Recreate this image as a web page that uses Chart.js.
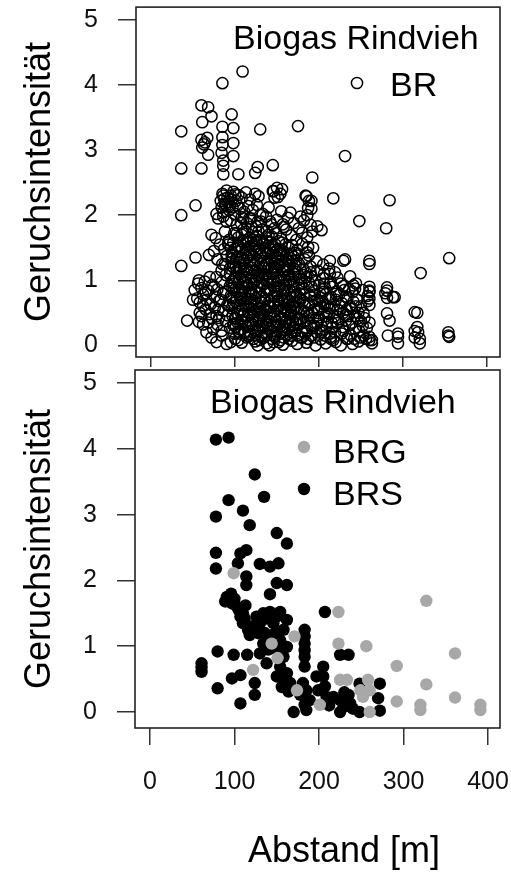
<!DOCTYPE html>
<html>
<head>
<meta charset="utf-8">
<script src="https://cdn.jsdelivr.net/npm/chart.js@4.4.1/dist/chart.umd.min.js"></script>
<style>
  body { margin: 0; background: #fff; }
  #wrap { position: relative; width: 511px; height: 872px; }
  canvas { position: absolute; left: 0; }
  #topChart { top: 0; }
  #bottomChart { top: 360px; }
</style>
</head>
<body>
<div id="wrap">
  <canvas id="topChart" width="511" height="370"></canvas>
  <canvas id="bottomChart" width="511" height="512"></canvas>
</div>
<script>
// ticks
const xTicks = [0, 100, 200, 300, 400];
const yTicks = [0, 1, 2, 3, 4, 5];

// top panel: Biogas Rindvieh, BR  [Abstand m, Geruchsintensitaet]
const brPoints = [
  [109,4.21],[85,4.03],[60,3.69],[68,3.66],[72,3.52],[61,3.43],[36,3.29],[96,3.55],[98,3.34],[85,3.36],[130,3.32],[175,3.37],
  [60,3.16],[63,3.09],[67,3.19],[61,3.04],[64,3.12],[68,2.93],[85,3.2],[85,3.08],[84,2.96],[86,2.84],[98,3.11],[98,2.91],
  [36,2.72],[60,2.72],[86,2.76],[86,2.63],[104,2.63],[124,2.65],[127,2.74],[145,2.77],[231,2.91],[192,2.58],
  [36,2.0],[53,2.15],[78,2.02],[217,2.26],[284,2.23],[248,1.91],[280,1.8],[150,2.42],[156,2.4],[185,2.29],[191,2.22],[187,2.11],
  [145,2.37],[154,2.33],[147,2.27],[166,2.04],[203,1.77],[355,1.34],[231,1.32],[260,1.3],[260,1.25],[321,1.11],
  [36,1.22],[53,1.35],[69,1.39],[229,1.3],[219,1.12],[213,0.95],[187,1.51],
  [241,0.92],[243,0.87],[260,0.82],[260,0.72],[260,0.62],[279,0.8],[281,0.73],[288,0.74],[317,0.5],[281,0.49],[284,0.38],[260,0.35],
  [294,0.18],[294,0.13],[294,0.03],[317,0.28],[318,0.2],[320,0.1],[320,0.03],[354,0.2],[354,0.15],[282,0.15],[263,0.08],[263,0.03],[57,0.36],
  [85,2.33],[87,2.25],[90,2.38],[92,2.2],[95,2.3],[98,2.36],[101,2.22],[104,2.31],[108,2.27],[113,2.35],[118,2.24],[124,2.33],[128,2.29],[146,2.37],[151,2.28],[184,2.3],[188,2.22],
  [84,2.12],[86,2.05],[89,2.15],[93,2.08],[97,2.12],[100,2.02],[106,2.1],[111,2.05],[116,2.14],[121,2.08],[126,2.16],[133,2.02],[140,2.12],[155,2.06],[178,1.98],[191,2.1],[186,2.0],
  [80,1.95],[95,1.92],[102,1.85],[108,1.97],[114,1.88],[119,1.95],[125,1.83],[131,1.9],[137,1.98],[143,1.86],[150,1.93],[158,1.82],[163,1.96],[170,1.88],[176,1.8],[182,1.92],[190,1.85],[198,1.83],
  [72,1.7],[77,1.65],[88,1.75],[93,1.62],[99,1.72],[104,1.66],[110,1.78],[115,1.63],[121,1.74],[126,1.68],[132,1.61],[138,1.76],[144,1.67],[149,1.72],[155,1.64],[161,1.78],[167,1.69],[173,1.62],[180,1.73],[186,1.66],[192,1.75],
  [75,1.45],[82,1.55],[87,1.48],[92,1.58],[97,1.42],[103,1.53],[108,1.47],[113,1.59],[118,1.44],[123,1.55],[128,1.49],[134,1.57],[139,1.43],[145,1.52],[150,1.46],[156,1.58],[162,1.41],[168,1.54],[174,1.47],[180,1.56],[186,1.43],[193,1.5],
  [79,1.32],[85,1.25],[90,1.37],[96,1.28],[101,1.21],[106,1.34],[111,1.26],[116,1.39],[121,1.23],[126,1.31],[131,1.37],[136,1.24],[142,1.33],[147,1.27],[153,1.38],[158,1.22],[164,1.3],[170,1.36],[176,1.25],[183,1.32],[190,1.21],[197,1.29],[205,1.24],[213,1.3],[212,1.18],
  [78,1.05],[84,1.15],[89,1.08],[94,1.18],[99,1.02],[104,1.12],[109,1.06],[114,1.17],[119,1.03],[124,1.13],[129,1.07],[134,1.19],[139,1.01],[144,1.1],[149,1.16],[154,1.04],[159,1.14],[165,1.08],[171,1.17],[177,1.02],[184,1.12],[191,1.06],[198,1.15],[205,1.03],[213,1.1],[222,1.04],[237,1.06],
  [56,0.95],[60,0.88],[64,0.98],[68,0.84],[73,0.93],[79,0.86],[84,0.97],[89,0.82],[94,0.91],[99,0.85],[104,0.96],[109,0.83],[114,0.92],[119,0.87],[124,0.99],[129,0.81],[134,0.94],[139,0.88],[144,0.97],[149,0.83],
  [154,0.91],[159,0.86],[164,0.98],[170,0.82],[176,0.93],[182,0.87],[188,0.96],[194,0.84],[200,0.92],[207,0.88],[214,0.97],[221,0.83],[229,0.91],[236,0.86],[244,0.95],[260,0.9],[260,0.84],[281,0.89],[281,0.84],
  [55,0.72],[58,0.66],[62,0.78],[66,0.7],[71,0.63],[76,0.75],[81,0.68],[86,0.79],[91,0.62],[96,0.73],[101,0.67],[106,0.77],[111,0.64],[116,0.71],[121,0.79],[126,0.65],[131,0.74],[136,0.69],[141,0.61],[146,0.76],
  [151,0.68],[156,0.72],[161,0.63],[166,0.78],[171,0.66],[177,0.73],[183,0.61],[189,0.77],[195,0.68],[201,0.74],[207,0.62],[213,0.71],[220,0.79],[227,0.65],[234,0.73],[241,0.67],[250,0.6],[258,0.76],[258,0.68],[290,0.74],
  [60,0.45],[65,0.55],[70,0.48],[76,0.58],[81,0.42],[86,0.53],[91,0.46],[96,0.57],[101,0.41],[106,0.52],[111,0.47],[116,0.59],[121,0.43],[126,0.54],[131,0.49],[136,0.56],[141,0.44],[146,0.51],[151,0.58],[156,0.42],
  [161,0.53],[166,0.47],[171,0.57],[176,0.41],[182,0.52],[188,0.46],[194,0.55],[200,0.43],[206,0.5],[212,0.57],[218,0.44],[225,0.53],[232,0.47],[239,0.56],[246,0.41],[253,0.5],[314,0.51],
  [43,0.38],[68,0.35],[74,0.25],[79,0.32],[84,0.22],[89,0.37],[94,0.27],[99,0.33],[104,0.21],[109,0.36],[114,0.28],[119,0.34],[124,0.23],[129,0.39],[134,0.26],[139,0.31],[144,0.22],[149,0.37],[154,0.29],[159,0.24],
  [164,0.35],[169,0.27],[174,0.32],[180,0.21],[186,0.38],[192,0.26],[198,0.33],[204,0.23],[210,0.36],[216,0.28],[222,0.34],[229,0.22],[236,0.31],[243,0.25],[250,0.37],[257,0.27],[314,0.22],
  [72,0.12],[78,0.05],[84,0.15],[90,0.02],[100,0.1],[108,0.04],[116,0.14],[124,0.06],[127,0.0],[133,0.11],[138,0.03],[141,0.0],[147,0.13],[152,0.05],[157,0.01],[162,0.16],[168,0.07],[174,0.02],[180,0.12],[185,0.04],
  [191,0.15],[196,0.0],[202,0.09],[208,0.03],[214,0.13],[220,0.05],[226,0.0],[233,0.1],[240,0.02],[247,0.06],[253,0.15],[260,0.13],[260,0.08],[314,0.12],[355,0.13],
  [92,1.55],[97,1.33],[103,1.44],[107,1.18],[112,0.97],[117,1.52],[122,1.36],[127,1.12],[132,0.95],[137,1.41],[142,1.58],[147,1.2],[152,0.99],[157,1.45],[163,1.16],[168,1.02],[173,1.3],
  [95,0.76],[100,0.58],[105,0.88],[110,0.69],[115,0.45],[120,0.62],[125,0.81],[130,0.56],[135,0.72],[140,0.38],[145,0.64],[150,0.79],[155,0.52],[160,0.35],[165,0.68],[170,0.44],[175,0.58],
  [98,0.31],[103,0.48],[108,0.25],[113,0.6],[118,0.17],[123,0.52],[128,0.3],[133,0.45],[138,0.15],[143,0.58],[148,0.28],[153,0.4],[158,0.12],[163,0.5],[168,0.2],
  [178,0.4],[183,0.27],[188,0.63],[193,0.42],[198,0.55],[203,0.3],[208,0.45],[213,0.18],[218,0.62],[223,0.4],[228,0.28],[233,0.55],[238,0.15],[243,0.45],[248,0.22],
  [196,1.0],[201,0.8],[206,1.1],[211,0.72],[216,0.9],[226,0.95],[232,0.75],[240,0.82],
  [94,1.1],[99,0.95],[104,1.28],[109,1.6],[114,1.05],[119,0.8],[124,1.45],[129,1.62],[134,1.1],[139,0.85],[144,1.3],[149,1.05],[154,1.25],[159,0.7],[164,1.5],[169,0.9],[174,1.12],[179,0.95],[185,1.05],[190,0.75],
  [80,0.55],[75,0.9],[70,1.05],[65,0.8],[62,0.6],[58,0.5],[52,0.85],[50,0.7],[57,1.0],[62,0.32],[66,0.2],[72,0.42],
  [86,2.3],[88,2.18],[91,2.27],[94,2.14],[96,2.24],[100,2.32],[103,2.15],[86,1.98],[83,2.22],
  [96,1.38],[101,1.05],[106,0.62],[111,1.3],[116,0.92],[121,0.55],[126,1.02],[131,1.25],[136,0.82],[141,1.48],[146,0.9],[151,1.35],[156,0.77],[161,1.2],[166,0.58],[171,1.42],[176,0.66],[181,1.18],
  [97,0.45],[102,0.72],[107,0.38],[112,0.82],[117,0.3],[122,0.95],[127,0.42],[132,0.66],[137,0.35],[142,0.86],[147,0.46],[152,0.7],[157,0.28],[162,0.84],[167,0.52],[172,0.22],[177,0.8],[182,0.36],
  [99,0.18],[104,0.08],[109,0.45],[114,0.12],[119,0.5],[124,0.15],[129,0.08],[134,0.2],[139,0.52],[144,0.1],[149,0.18],[154,0.08],[159,0.47],[164,0.1],[169,0.38],[174,0.15],[179,0.55],[184,0.18],
  [187,0.1],[192,0.5],[197,0.2],[202,0.6],[207,0.15],[212,0.48],[217,0.08],[222,0.55],[227,0.18],[232,0.38],[237,0.6],[242,0.1],[247,0.5],[252,0.3],[256,0.1],
  [100,1.48],[105,1.2],[110,1.12],[115,1.35],[120,1.15],[125,1.6],[130,1.42],[135,1.3],[140,1.2],[145,1.42],[150,1.12],[155,1.32],[160,1.55],[165,1.22],[170,1.1],[175,1.38],
  [102,1.72],[107,1.88],[112,1.75],[117,1.95],[122,1.62],[127,1.9],[132,1.78],[137,1.66],[142,1.9],[147,1.8],[152,1.6],[157,1.86],
  [190,0.3],[195,0.78],[200,0.55],[205,0.82],[210,0.6],[215,0.35],[220,0.7],[225,0.6],[230,0.85],[235,0.45],[245,0.7],[252,0.85],
  [93,0.62],[98,1.2],[103,0.35],[108,0.9],[113,1.48],[118,0.66],[123,1.25],[128,0.5],[133,1.55],[138,0.98],[143,0.42],[148,1.38],[153,0.6],[158,1.05],[163,0.25],[168,1.3],[173,0.78],[178,0.12],[183,0.98],[188,1.38],
  [95,0.05],[101,0.28],[106,1.02],[111,0.2],[116,1.12],[121,0.32],[126,0.9],[131,0.14],[136,1.08],[141,0.68],[146,0.05],[151,1.24],[156,0.2],[161,0.95],[166,0.32],[171,0.75],[176,0.5],[181,0.68],[186,0.22],[191,0.9],
  [97,0.88],[102,1.35],[107,0.72],[112,0.35],[117,0.82],[122,1.48],[127,0.22],[132,1.05],[137,0.55],[142,0.25],[147,0.98],[152,0.32],[157,1.15],[162,0.72],[167,1.4],[172,0.35],[177,1.05],[182,0.78],[194,0.12],[199,0.4],
  [204,0.68],[209,0.28],[214,0.75],[219,0.2],[224,0.78],[229,0.5],[234,0.1],[239,0.35],[244,0.6],[249,0.12],[254,0.42],[110,1.95],[120,1.82],[130,2.0],[140,1.7],[90,1.9],[95,1.5],[88,1.25],[83,0.7],[78,0.45],
  [96,0.98],[100,0.42],[104,1.52],[108,0.55],[112,1.2],[116,0.22],[120,1.4],[124,0.72],[128,1.05],[132,0.3],[136,1.5],[140,0.6],[144,1.18],[148,0.15],[152,0.88],[156,1.4],[160,0.55],[164,1.08],[168,0.62],[172,1.22],
  [98,0.65],[102,1.15],[106,0.18],[110,0.98],[114,0.72],[118,1.3],[122,0.1],[126,0.6],[130,1.18],[134,0.38],[138,1.25],[142,0.48],[146,1.1],[150,0.3],[154,1.45],[158,0.58],[162,1.32],[166,0.15],[170,0.98],[174,0.4],
  [178,0.7],[182,1.08],[186,0.5],[190,1.12],[194,0.3],[198,0.7],[202,0.2],[206,0.95],[210,0.5],[214,0.1],[118,1.65],[128,1.75],[138,1.6],[148,1.55],[108,1.7],[98,1.58]
];

// bottom panel: BRG (grau) und BRS (schwarz)
const brgPoints = [
  [99,2.11],[223,1.52],[327,1.69],[171,1.15],[144,1.04],[223,1.04],[256,1.0],[361,0.89],[292,0.7],[122,0.64],[151,0.82],[327,0.42],
  [225,0.49],[233,0.49],[258,0.49],[260,0.33],[252,0.23],[249,0.33],[292,0.16],[320,0.11],[320,0.03],[361,0.22],[391,0.11],[391,0.03],
  [201,0.11],[260,0.0],[174,0.33]
];
const brsPoints = [
  [78,4.14],[93,4.17],[124,3.61],[93,3.22],[135,3.27],[78,2.97],[110,3.06],[118,2.84],[150,2.72],[162,2.56],
  [78,2.42],[78,2.18],[107,2.41],[114,2.46],[104,2.26],[130,2.25],[142,2.21],[152,2.26],[114,2.06],[114,1.93],
  [150,1.96],[162,1.93],[142,1.79],[91,1.75],[97,1.65],[89,1.68],[103,1.6],[107,1.45],[110,1.35],[116,1.25],[118,1.17],[110,1.5],
  [100,1.72],[105,1.55],[112,1.42],[96,1.8],[120,1.3],[113,1.62],
  [126,1.45],[134,1.5],[142,1.52],[154,1.52],[162,1.4],[158,1.25],[146,1.35],[130,1.35],[136,1.2],[142,1.12],[154,1.09],[162,0.99],
  [158,0.84],[138,0.74],[130,0.89],[134,1.04],[150,1.45],[138,1.42],[128,1.2],[148,1.2],[140,0.95],[150,0.95],
  [80,0.92],[99,0.87],[115,0.87],[61,0.74],[61,0.61],[61,0.68],[80,0.36],[97,0.51],[107,0.56],[124,0.44],[124,0.26],[107,0.13],
  [154,0.69],[162,0.59],[166,0.44],[158,0.49],[150,0.54],[164,0.31],[156,0.38],[160,0.42],
  [183,1.25],[183,1.15],[183,1.04],[183,0.94],[183,0.84],[183,0.69],[170,0.0],[181,0.44],[185,0.33],[189,0.18],[183,0.11],[178,0.26],[185,0.03],
  [197,0.54],[199,0.33],[207,1.52],[225,0.87],[235,0.87],[205,0.69],[205,0.54],[207,0.39],[209,0.23],[217,0.23],[225,0.18],
  [229,0.08],[235,0.26],[225,0.0],[237,0.13],[212,0.1],[248,0.43],[248,0.0],[272,0.43],[270,0.21],[272,0.02],[230,0.3],[240,0.05]
];

const toXY = arr => arr.map(p => ({ x: p[0], y: p[1] }));

Chart.defaults.font.family = "'Liberation Sans', Arial, sans-serif";

// box around the plot area, labels and legend inside the plot
function panelExtras(texts, markers) {
  return {
    id: 'panelExtras',
    afterDraw(chart) {
      const { ctx, chartArea: a } = chart;
      ctx.save();
      ctx.strokeStyle = '#222';
      ctx.lineWidth = 1.6;
      ctx.strokeRect(a.left, a.top, a.right - a.left, a.bottom - a.top);
      ctx.textBaseline = 'alphabetic';
      ctx.textAlign = 'left';
      ctx.fillStyle = '#000';
      texts.forEach(t => {
        ctx.font = t.size + "px 'Liberation Sans', Arial, sans-serif";
        ctx.fillText(t.text, t.x, t.y);
      });
      markers.forEach(m => {
        ctx.beginPath();
        ctx.arc(m.x, m.y, m.r, 0, Math.PI * 2);
        if (m.dot) {
          ctx.fillStyle = m.dot;
          ctx.fill();
        } else {
          ctx.strokeStyle = '#000';
          ctx.lineWidth = 1.5;
          ctx.stroke();
        }
      });
      ctx.restore();
    }
  };
}

function scales(xMin, xMax, yMin, yMax, yWidth, xHeight, showX) {
  return {
    x: {
      type: 'linear', min: xMin, max: xMax,
      afterBuildTicks: s => { s.ticks = xTicks.map(v => ({ value: v })); },
      afterFit: s => { s.height = xHeight; s.paddingLeft = 0; s.paddingRight = 0; },
      grid: { drawOnChartArea: false, tickLength: showX ? 17 : 10, color: '#333', lineWidth: 1.5 },
      border: { display: false },
      ticks: { display: showX, autoSkip: false, maxRotation: 0, padding: 22, color: '#111', font: { size: 25 } }
    },
    y: {
      type: 'linear', min: yMin, max: yMax,
      afterBuildTicks: s => { s.ticks = yTicks.map(v => ({ value: v })); },
      afterFit: s => { s.width = yWidth; s.paddingTop = 0; s.paddingBottom = 0; },
      grid: { drawOnChartArea: false, tickLength: 18, color: '#333', lineWidth: 1.5 },
      border: { display: false },
      ticks: { autoSkip: false, padding: 20, color: '#111', font: { size: 25 } },
      title: { display: true, text: 'Geruchsintensität', color: '#000', font: { size: 36 }, padding: { top: 18, bottom: 0 } }
    }
  };
}

new Chart(document.getElementById('topChart'), {
  type: 'scatter',
  data: {
    datasets: [{
      label: 'BR',
      data: toXY(brPoints),
      pointRadius: 5.6,
      pointBorderWidth: 1.5,
      borderColor: '#000',
      backgroundColor: 'rgba(0,0,0,0)'
    }]
  },
  options: {
    responsive: false,
    animation: false,
    events: [],
    layout: { padding: { left: 0, right: 11, top: 5, bottom: 0 } },
    scales: scales(-17.9, 415.5, -0.18, 5.2, 136, 13, false),
    plugins: { legend: { display: false }, tooltip: { enabled: false } }
  },
  plugins: [panelExtras(
    [
      { text: 'Biogas Rindvieh', x: 233, y: 49, size: 34 },
      { text: 'BR', x: 390, y: 96, size: 34 }
    ],
    [{ x: 357, y: 83, r: 5.6 }]
  )]
});

new Chart(document.getElementById('bottomChart'), {
  type: 'scatter',
  data: {
    datasets: [{
      label: 'BRG',
      data: toXY(brgPoints),
      pointRadius: 6.2,
      pointBorderWidth: 0,
      borderColor: '#a8a8a8',
      backgroundColor: '#a8a8a8'
    }, {
      label: 'BRS',
      data: toXY(brsPoints),
      pointRadius: 6.2,
      pointBorderWidth: 0,
      borderColor: '#000',
      backgroundColor: '#000'
    }]
  },
  options: {
    responsive: false,
    animation: false,
    events: [],
    layout: { padding: { left: 0, right: 11, top: 10, bottom: 0 } },
    scales: scales(-17.75, 414.2, -0.243, 5.198, 135, 144, true),
    plugins: { legend: { display: false }, tooltip: { enabled: false } }
  },
  plugins: [panelExtras(
    [
      { text: 'Biogas Rindvieh', x: 210, y: 53, size: 34 },
      { text: 'BRG', x: 333, y: 103, size: 34 },
      { text: 'BRS', x: 333, y: 145, size: 34 },
      { text: 'Abstand [m]', x: 248, y: 502, size: 36 }
    ],
    [
      { x: 304, y: 87, r: 6.2, dot: '#a8a8a8' },
      { x: 304, y: 129, r: 6.2, dot: '#000' }
    ]
  )]
});
</script>
</body>
</html>
